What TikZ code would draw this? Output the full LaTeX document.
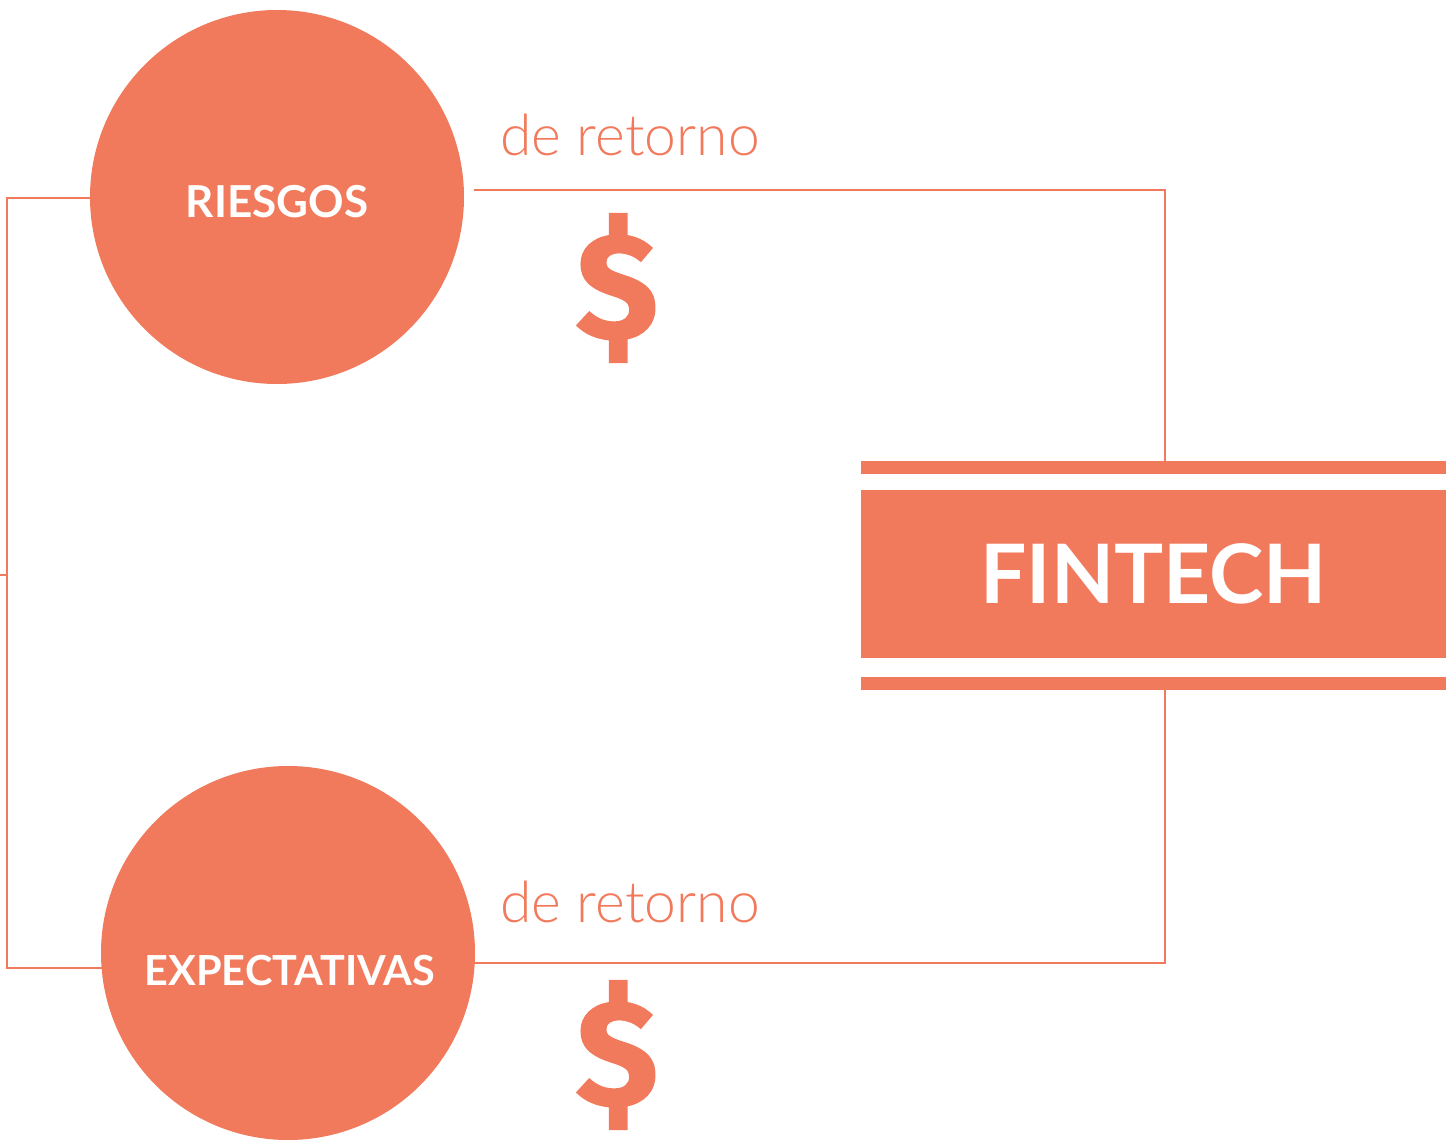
\documentclass[tikz,border=0pt]{standalone}
\usepackage{fontspec}
\setmainfont{Lato}
\newfontfamily\lightfont{Lato Light}
\newfontfamily\dolfont{Fira Sans}[BoldFeatures={FakeBold=1.2}]
\definecolor{coral}{RGB}{242,122,92}
\begin{document}
\begin{tikzpicture}[x=0.5pt,y=-0.5pt,
  circ/.style={circle, fill=coral, minimum size=187pt, inner sep=0pt},
  circtext/.style={text=white, font=\bfseries\fontsize{22}{22}\selectfont, inner sep=0pt},
  conn/.style={draw=coral, line width=1.3pt},
  retorno/.style={text=coral, font=\lightfont\fontsize{28.5}{28.5}\selectfont, inner sep=0pt, anchor=base},
  dollar/.style={text=coral, font=\dolfont\bfseries\fontsize{75}{75}\selectfont, inner sep=0pt},
  stripe/.style={fill=coral},
  mainbox/.style={rectangle, fill=coral, minimum width=292.5pt, minimum height=84pt, inner sep=0pt, text=white, font=\bfseries\fontsize{41}{41}\selectfont}]
\useasboundingbox (0,0) rectangle (1453,1140);
% circles
\node[circ] (riesgos) at (277,197) {};
\node[circtext] (riesgosT) at (277,202) {RIESGOS};
\node[circ] (expect) at (288,953) {};
\node[circtext, font=\bfseries\fontsize{20.7}{20.7}\selectfont] (expectT) at (290,971) {EXPECTATIVAS};
% fintech box
\fill[stripe] (861,461) rectangle (1446,474);
\fill[stripe] (861,677) rectangle (1446,690);
\node[mainbox] (fintech) at (1153.5,574) {FINTECH};
\coordinate (tstripe) at (1165,461);
\coordinate (bstripe) at (1165,690);
% labels
\node[retorno] (ret1) at (630,155) {de retorno};
\node[retorno] (ret2) at (630,922) {de retorno};
\node[dollar] (d1) at (617,288) {\$};
\node[dollar] (d2) at (617,1055) {\$};
% connectors
\coordinate (l1) at (7,198);
\coordinate (l2) at (7,968);
\coordinate (l3) at (101.6,968);
\coordinate (tick) at (0,575);
\coordinate (tickend) at (7,575);
\draw[conn] (riesgos.west |- l1) -- (l1) -- (l2) -- (l3);
\draw[conn] (tick) -- (tickend);
\coordinate (t0) at (474,190);
\coordinate (t1) at (1165,190);
\draw[conn] (t0) -- (t1) -- (tstripe);
\coordinate (b0) at (474,963);
\coordinate (b1) at (1165,963);
\draw[conn] (bstripe) -- (b1) -- (b0);
\end{tikzpicture}
\end{document}
